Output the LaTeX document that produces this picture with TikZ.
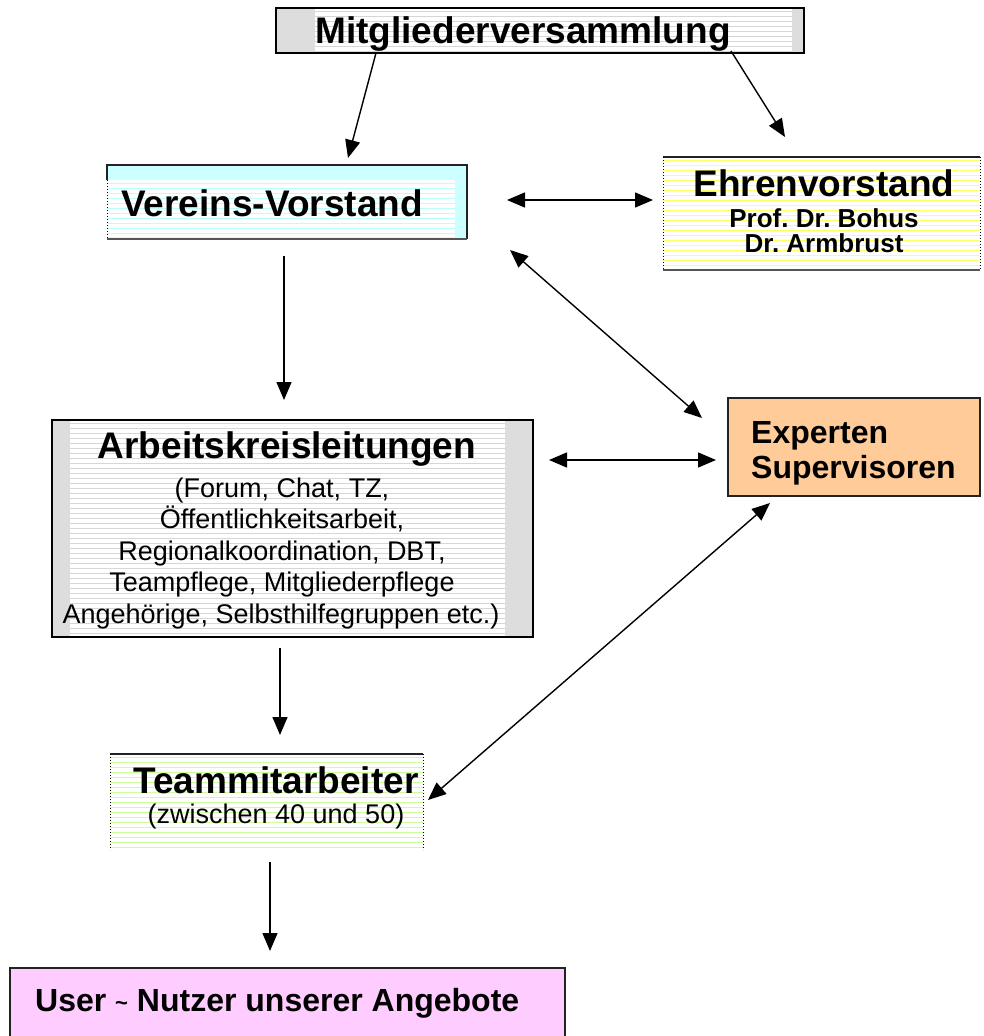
\documentclass[tikz,border=0pt]{standalone}
\usepackage{fontspec}
\setmainfont{Liberation Sans}
\usetikzlibrary{arrows.meta,calc}
\definecolor{bandgray}{HTML}{DDDDDD}
\definecolor{gstripe}{HTML}{D6D6D6}
\definecolor{vcyan}{HTML}{CCFFFF}
\definecolor{cstripe}{HTML}{B8FFFF}
\definecolor{ystripe}{HTML}{FFFF66}
\definecolor{grstripe}{HTML}{CCFF99}
\definecolor{orangefill}{HTML}{FFCC99}
\definecolor{pinkfill}{HTML}{FFCCFF}
\definecolor{darkline}{HTML}{222222}
\definecolor{midline}{HTML}{555555}
\frenchspacing
\begin{document}
\begin{tikzpicture}[x=1pt,y=-1pt,
  boxnode/.style={anchor=north west, inner sep=0pt, outer sep=0pt},
  stripes/.style={path picture={
    \foreach \k in {1,...,60}{
      \draw[#1, line width=0.9pt]
        ([yshift={-\k*5pt+2pt}]path picture bounding box.north west) --
        ([yshift={-\k*5pt+2pt}]path picture bounding box.north east);}}},
  dottededge/.style={line width=1pt, dash pattern=on 1.2pt off 1.8pt, black},
  solidedge/.style={line width=1.6pt, darkline},
  bigbold/.style={font=\bfseries\fontsize{37}{37}\selectfont, inner sep=0pt},
  midbold/.style={font=\bfseries\fontsize{32}{32}\selectfont, inner sep=0pt},
  smallbold/.style={font=\bfseries\fontsize{26}{26}\selectfont, inner sep=0pt},
  plain/.style={font=\fontsize{27}{27}\selectfont, inner sep=0pt},
  arr/.style={line width=1.4pt, -{Triangle[length=18pt,width=15pt]}},
  darr/.style={line width=1.4pt, {Triangle[length=18pt,width=15pt]}-{Triangle[length=18pt,width=15pt]}}
]
\useasboundingbox (0,0) rectangle (983,1036);
\fill[white] (0,0) rectangle (983,1036);

% Mitgliederversammlung
\node[boxnode, minimum width=528pt, minimum height=45pt, fill=white, stripes=gstripe] (m) at (276,8) {};
\fill[bandgray] (m.north west) rectangle ($(m.south west)+(39,0)$);
\fill[bandgray] ($(m.north east)+(-12,0)$) rectangle (m.south east);
\draw[line width=2pt, black] (m.north west) rectangle (m.south east);
\node[bigbold, anchor=base] (mt) at (523,43) {Mitgliederversammlung};

% Vereins-Vorstand
\node[boxnode, minimum width=360pt, minimum height=74pt, fill=vcyan] (v) at (107,165) {};
\path[fill=white, stripes=cstripe] (107,180) rectangle (455,237);
\draw[solidedge] ($(v.north west)+(0,15)$) -- (v.north west) -- (v.north east) -- (v.south east);
\draw[line width=1.4pt, midline] (v.south west) -- (v.south east);
\draw[dottededge] ($(v.north west)+(0,15)$) -- (v.south west);
\node[bigbold, anchor=base] (vt) at (272,216) {Vereins-Vorstand};

% Ehrenvorstand
\node[boxnode, minimum width=317pt, minimum height=113pt, fill=white, stripes=ystripe] (e) at (663,157) {};
\draw[solidedge] (e.north west) -- (e.north east);
\draw[line width=1.4pt, midline] (e.south west) -- (e.south east);
\draw[dottededge] (e.north west) -- (e.south west);
\draw[dottededge] (e.north east) -- (e.south east);
\node[bigbold, anchor=base] (et) at (824,196) {Ehrenvorstand};
\node[smallbold, anchor=base] (e1) at (824,227) {Prof. Dr. Bohus};
\node[smallbold, anchor=base] (e2) at (824,252) {Dr. Armbrust};

% Arbeitskreisleitungen
\node[boxnode, minimum width=481pt, minimum height=217pt, fill=white, stripes=gstripe] (a) at (52,420) {};
\fill[bandgray] (a.north west) rectangle ($(a.south west)+(18,0)$);
\fill[bandgray] ($(a.north east)+(-28,0)$) rectangle (a.south east);
\draw[line width=2pt, black] (a.north west) rectangle (a.south east);
\node[bigbold, anchor=base] (at) at (287,458) {Arbeitskreisleitungen};
\node[plain, anchor=base] (a1) at (282,497) {(Forum, Chat, TZ,};
\node[plain, anchor=base] (a2) at (282,528) {Öffentlichkeitsarbeit,};
\node[plain, anchor=base] (a3) at (282,560) {Regionalkoordination, DBT,};
\node[plain, anchor=base] (a4) at (282,591) {Teampflege, Mitgliederpflege};
\node[plain, anchor=base] (a5) at (281,623) {Angehörige, Selbsthilfegruppen etc.)};

% Experten
\node[boxnode, minimum width=252pt, minimum height=98pt, fill=orangefill, draw=darkline, line width=1.6pt] (x) at (728,398) {};
\node[midbold, anchor=base west] (x1) at (751,443) {Experten};
\node[midbold, anchor=base west] (x2) at (751,478) {Supervisoren};

% Teammitarbeiter
\node[boxnode, minimum width=313pt, minimum height=96pt, fill=white, stripes=grstripe] (t) at (110,754) {};
\draw[solidedge] (t.north west) -- (t.north east);
\draw[dottededge] (t.north west) -- (t.south west);
\draw[dottededge] (t.north east) -- (t.south east);
\node[bigbold, anchor=base] (tt) at (276,793) {Teammitarbeiter};
\node[plain, anchor=base] (t1) at (276,823) {(zwischen 40 und 50)};

% User
\node[boxnode, minimum width=555pt, minimum height=90pt, fill=pinkfill, draw=darkline, line width=1.6pt] (u) at (10,968) {};
\node[midbold, anchor=base west] (ut) at (35,1011) {User {\fontsize{22}{22}\selectfont\raisebox{1pt}{\textasciitilde}} Nutzer unserer Angebote};

% connectors
\draw[arr] ($(m.south west)+(100,0)$) -- ($(v.north west)+(241,-7)$);
\draw[arr] ($(m.south east)+(-73,-2)$) -- ($(e.north west)+(122,-20)$);
\draw[darr] ($(v.east)+(40,-2)$) -- ($(e.west)+(-10,-13.5)$);
\draw[darr] ($(v.south east)+(43,11)$) -- ($(x.north west)+(-26,20)$);
\draw[arr] ($(v.south west)+(177,17)$) -- ($(a.north west)+(232,-20)$);
\draw[darr] ($(a.east)+(16,-68.5)$) -- ($(x.west)+(-12,13)$);
\draw[darr] ($(x.south west)+(42,7)$) -- ($(t.east)+(5,-2)$);
\draw[arr] ($(a.south west)+(228,11)$) -- ($(t.north west)+(170,-19)$);
\draw[arr] ($(t.south west)+(160,12)$) -- ($(u.north west)+(260,-17)$);
\end{tikzpicture}
\end{document}
